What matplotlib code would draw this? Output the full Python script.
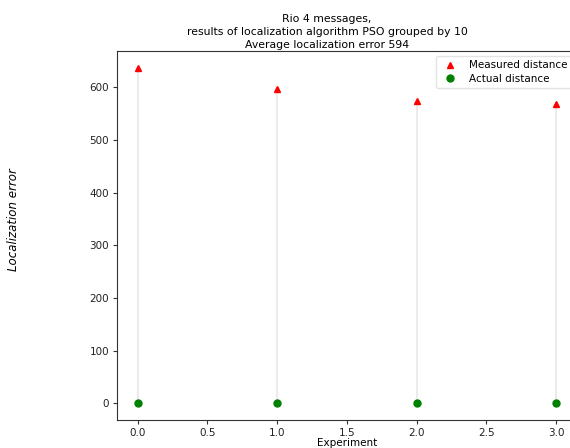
import numpy as np
import matplotlib
matplotlib.use("Agg")
import matplotlib.pyplot as plt

experiments = [0, 1, 2, 3]
measured = [637, 596, 574, 568]
actual = [0, 0, 0, 0]
avg_error = 594

title_lines = ["Rio 4 messages,",
               "results of localization algorithm PSO grouped by 10",
               "Average localization error %d" % avg_error]

fig = plt.figure(figsize=(5.7, 4.48), dpi=100)
ax = fig.add_axes([0.205, 0.0625, 0.807, 0.8235])

ax.vlines(experiments, actual, measured, color="#ebebeb", linewidth=1.5, zorder=1)
ax.plot(experiments, measured, "^", color="red", markersize=5, label="Measured distance", zorder=3)
ax.plot(experiments, actual, "o", color="green", markersize=5, label="Actual distance", zorder=3)

ax.set_xticks(np.arange(0, 3.01, 0.5))
ax.set_yticks(np.arange(0, 601, 100))
ax.tick_params(labelsize=7.5, length=3, pad=2.5, color="#333333", labelcolor="#222222")
ax.set_xlabel("Experiment", fontsize=7.5, labelpad=0)
for s in ax.spines.values():
    s.set_color("#333333")

ax.set_title("\n".join(title_lines), fontsize=7.8, x=0.457, pad=2.5, linespacing=1.38)
fig.text(0.023, 0.51, "Localization error", rotation=90, fontsize=8.5,
         style="italic", ha="center", va="center")

ax.legend(loc="upper right", fontsize=7.5, handletextpad=0.8, borderpad=0.4,
          labelspacing=0.3, framealpha=0.8, edgecolor="#dddddd", fancybox=True)

fig.savefig("out.png", dpi=100)
